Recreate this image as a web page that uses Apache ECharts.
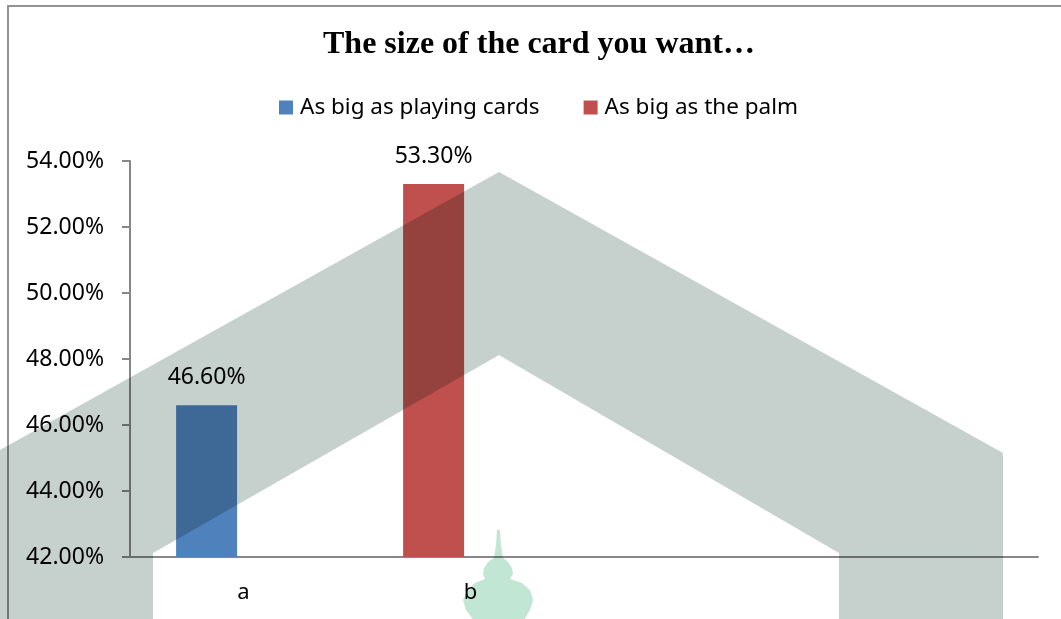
<!DOCTYPE html>
<html>
<head>
<meta charset="utf-8">
<script src="https://cdn.jsdelivr.net/npm/echarts@6/dist/echarts.min.js"></script>
<style>
  html, body { margin: 0; padding: 0; background: #fff; }
  #chart { width: 1061px; height: 619px; }
</style>
</head>
<body>
<div id="chart"></div>
<script>
// Survey answers: preferred card size
const categories = ['a', 'b', '', ''];
const playingCardsValues = [46.6, '-', '-', '-'];
const palmValues = ['-', 53.3, '-', '-'];
const seriesNames = ['As big as playing cards', 'As big as the palm'];
const yMin = 42;
const yMax = 54;
const yStep = 2;

const pct = v => Number(v).toFixed(2) + '%';
const numFont = 'Noto Sans';

const barLabel = {
  show: true,
  position: 'top',
  distance: 16,
  fontFamily: numFont,
  fontSize: 23,
  color: '#000',
  formatter: p => pct(p.value)
};

const chart = echarts.init(document.getElementById('chart'), null, { renderer: 'canvas' });

chart.setOption({
  backgroundColor: '#ffffff',
  animation: false,
  title: {
    text: 'The size of the card you want\u2026',
    left: 323,
    top: 29,
    padding: 0,
    textStyle: {
      fontFamily: 'Liberation Serif',
      fontWeight: 'bold',
      fontSize: 32,
      color: '#000'
    }
  },
  legend: {
    data: seriesNames,
    left: 279,
    top: 96,
    padding: 0,
    itemWidth: 14,
    itemHeight: 14,
    itemGap: 44,
    icon: 'rect',
    textStyle: { fontFamily: numFont, fontSize: 22.5, color: '#000', padding: [0, 0, 0, 2] }
  },
  grid: {
    left: 130,
    right: 23,
    top: 161,
    bottom: 62,
    containLabel: false,
    outerBoundsMode: 'none'
  },
  xAxis: {
    type: 'category',
    data: categories,
    axisLine: { show: true, lineStyle: { color: '#878787', width: 2 } },
    axisTick: { show: false },
    axisLabel: {
      interval: 0,
      margin: 25,
      fontFamily: numFont,
      fontSize: 22,
      color: '#000'
    },
    splitLine: { show: false }
  },
  yAxis: {
    type: 'value',
    min: yMin,
    max: yMax,
    interval: yStep,
    axisLine: { show: true, lineStyle: { color: '#878787', width: 2 } },
    axisTick: { show: true, inside: false, length: 8, lineStyle: { color: '#878787', width: 2 } },
    axisLabel: {
      margin: 26,
      fontFamily: numFont,
      fontSize: 23,
      color: '#000',
      formatter: v => pct(v)
    },
    splitLine: { show: false }
  },
  series: [
    {
      name: seriesNames[0],
      type: 'bar',
      stack: 'answers',
      data: playingCardsValues,
      barWidth: 61,
      barGap: '21%',
      itemStyle: { color: '#4F81BD' },
      label: barLabel
    },
    {
      name: seriesNames[1],
      type: 'bar',
      stack: 'answers',
      data: palmValues,
      barWidth: 61,
      barGap: '21%',
      itemStyle: { color: '#C0504D' },
      label: barLabel
    },
    {
      // empty companion slot, keeps the answer bars left of each category centre
      name: 'spare',
      type: 'bar',
      data: ['-', '-', '-', '-'],
      barWidth: 61,
      barGap: '21%',
      silent: true
    }
  ],
  graphic: [
    {
      type: 'rect',
      z: -1,
      silent: true,
      shape: { x: 8, y: 6, width: 1200, height: 800 },
      style: { fill: null, stroke: '#939393', lineWidth: 2 }
    },
    {
      type: 'polygon',
      z: 200,
      silent: true,
      shape: {
        points: [
          [0, 450], [499, 172], [1003, 453], [1003, 625], [839, 625],
          [839, 553], [499, 355], [153, 553], [153, 625], [0, 625]
        ]
      },
      style: { fill: '#c6d0cc', blend: 'multiply' }
    },
    {
      type: 'polygon',
      z: 200,
      silent: true,
      shape: {
        points: [
          [497, 530], [500, 530], [501, 545], [503, 558], [508, 562], [512, 568],
          [513, 574], [510, 579], [522, 583], [530, 590], [533, 600], [530, 610],
          [523, 622], [475, 622], [466, 610], [463, 600], [467, 590], [475, 583],
          [485, 579], [483, 574], [484, 568], [488, 562], [494, 558], [496, 545]
        ]
      },
      style: { fill: '#c2e6d4', blend: 'multiply' }
    }
  ]
});
</script>
</body>
</html>
